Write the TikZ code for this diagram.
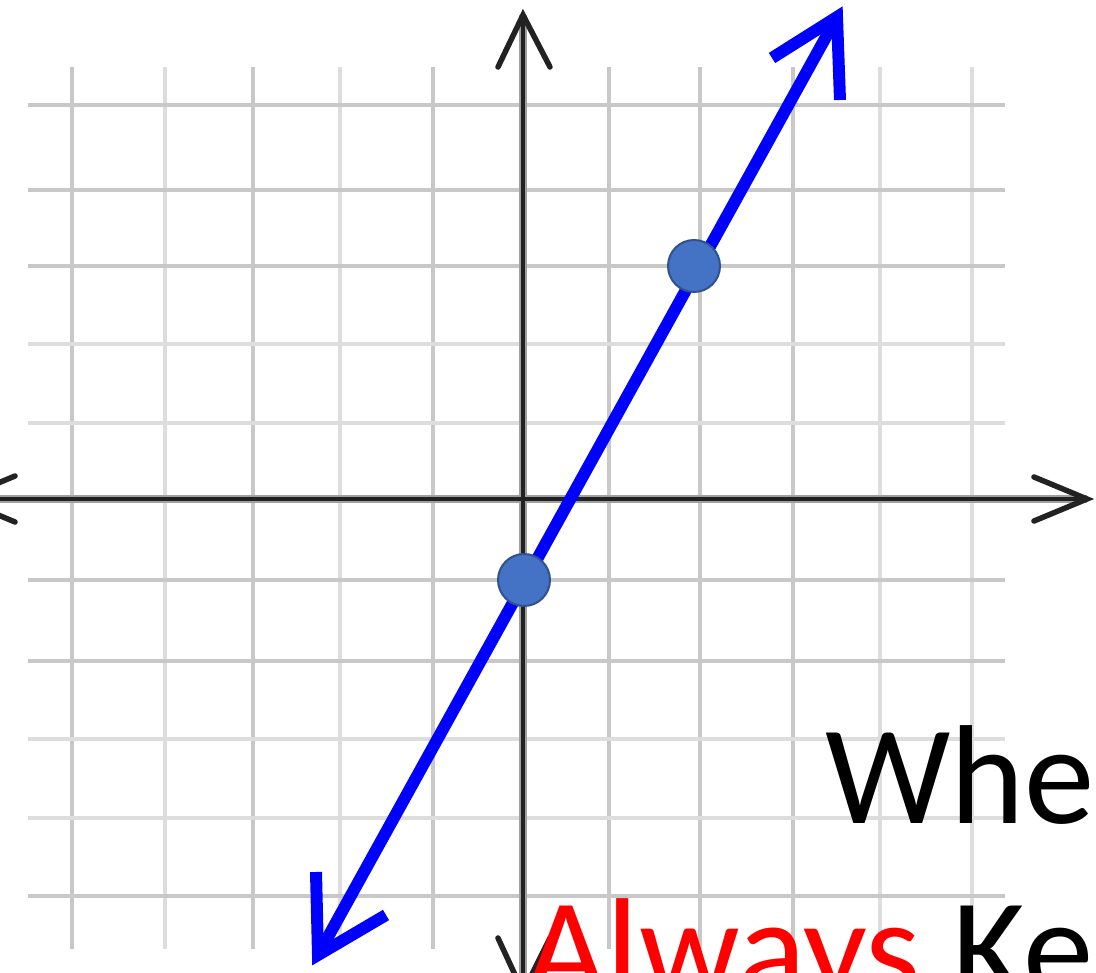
\documentclass[tikz,border=0pt]{standalone}
\usepackage{fontspec}
\usetikzlibrary{calc}
\newfontfamily\carlito{Carlito}
\definecolor{gridA}{HTML}{C8C8C8}
\definecolor{gridB}{HTML}{DDDDDD}
\definecolor{axisc}{HTML}{222222}
\definecolor{axish}{HTML}{A0A0A0}
\definecolor{ptfill}{HTML}{4472C4}
\definecolor{ptdraw}{HTML}{2F528F}
\definecolor{lineblue}{HTML}{0000FF}
\definecolor{txtred}{HTML}{FF0000}
\begin{document}
\begin{tikzpicture}[x=1pt,y=-1pt,
  gridline/.style={line width=4.5pt},
  axishalo/.style={draw=axish,line width=8pt},
  axisline/.style={draw=axisc,line width=4pt},
  chev/.style={draw=axisc,line width=5.5pt,line join=miter,line cap=round},
  bluel/.style={draw=lineblue,line width=12pt},
  bluechev/.style={draw=lineblue,line width=12pt,line join=miter},
  pt/.style={circle,fill=ptfill,draw=ptdraw,line width=2pt,minimum size=52pt,inner sep=0pt},
  lbl/.style={anchor=base west,inner sep=0pt,font=\carlito\fontsize{141}{170}\selectfont}]
\useasboundingbox (0,0) rectangle (1096,973);
\clip (0,0) rectangle (1096,973);
\fill[white] (0,0) rectangle (1096,973);
% grid
\foreach \x/\c in {72/gridA,165/gridB,253/gridA,340/gridB,433/gridA,609/gridA,700/gridA,793/gridA,880/gridB,972/gridB}
  \draw[gridline,draw=\c] (\x,67) -- (\x,949);
\foreach \y/\c in {105/gridA,190/gridA,266/gridA,344/gridB,423/gridB,580/gridA,661/gridA,739/gridB,818/gridB,896/gridA}
  \draw[gridline,draw=\c] (28,\y) -- (1005,\y);
% axes
\coordinate (xl) at (-40,499);
\coordinate (xr) at (1087,499);
\coordinate (yt) at (523,15);
\coordinate (yb) at (523,992);
\draw[axishalo] (xl) -- (xr);
\draw[axishalo] (yt) -- (yb);
\draw[axisline] (xl) -- (xr);
\draw[axisline] (yt) -- (yb);
\draw[chev] ($(xr)+(-53,-22)$) -- (xr) -- ($(xr)+(-53,22)$);
\draw[chev] ($(xl)+(55,-23)$) -- (xl) -- ($(xl)+(55,23)$);
\draw[chev] ($(yt)+(-25,52)$) -- (yt) -- ($(yt)+(27,52)$);
\draw[chev] ($(yb)+(-25,-54)$) -- (yb) -- ($(yb)+(27,-54)$);
% blue line
\coordinate (bt) at (837,17);
\coordinate (bb) at (318,955);
\draw[bluel] ($(bb)!5pt!(bt)$) -- ($(bt)!5pt!(bb)$);
\draw[bluechev] ($(bt)+(-65,41)$) -- (bt) -- ($(bt)+(3,83)$);
\draw[bluechev] ($(bb)+(-2,-83)$) -- (bb) -- ($(bb)+(68,-40)$);
% points
\node[pt] (p1) at (694,266) {};
\node[pt] (p2) at (524,580) {};
% text
\node[lbl] (t1) at (825,823) {Whe};
\node[lbl] (t2) at (525,996) {\textcolor{txtred}{Always} Ke};
\end{tikzpicture}
\end{document}
